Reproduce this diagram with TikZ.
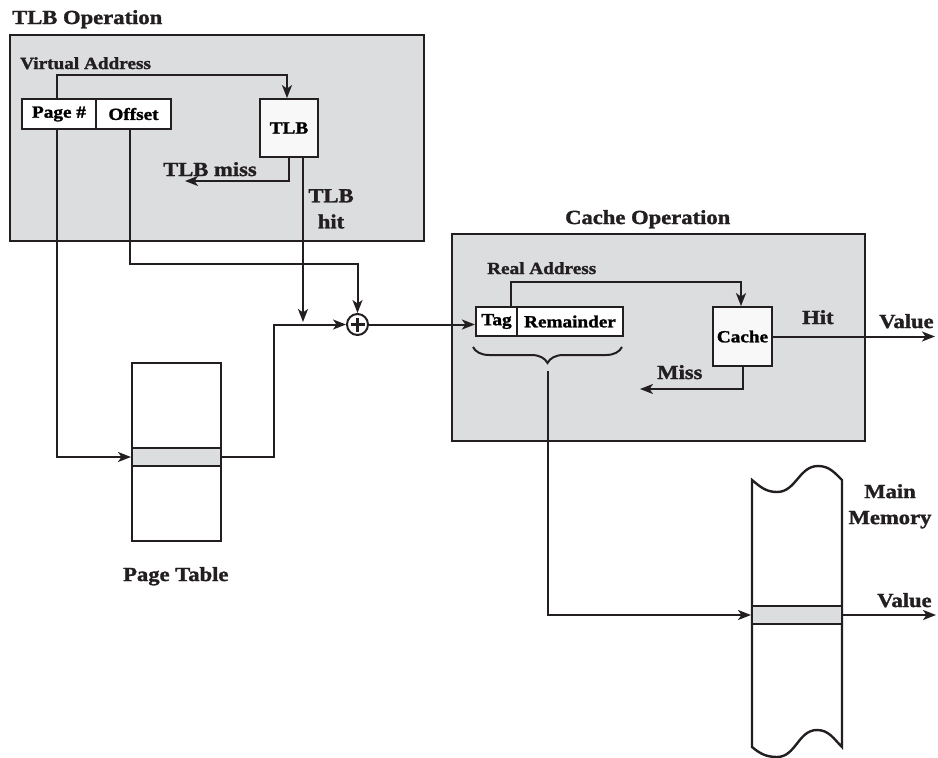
\documentclass[tikz,border=0pt]{standalone}
\usepackage{fontspec}
\setmainfont{Liberation Serif}[FakeStretch=1.13, BoldFeatures={FakeBold=1.5}]
\usetikzlibrary{arrows.meta,decorations.pathreplacing}
\definecolor{linec}{HTML}{231F20}
\definecolor{panel}{HTML}{DCDDDF}
\definecolor{boxf}{HTML}{F8F8F8}
\tikzset{
  biglbl/.style={font=\fontsize{20}{26}\selectfont\bfseries, inner sep=0pt, text=linec},
  smalllbl/.style={font=\fontsize{17}{19}\selectfont\bfseries, inner sep=0pt, text=linec},
  panelbox/.style={draw=linec, line width=2pt, fill=panel, inner sep=0pt},
  unitbox/.style={draw=linec, line width=1.8pt, fill=boxf, inner sep=0pt, minimum width=58pt, minimum height=58pt, font=\fontsize{17}{19}\selectfont\bfseries},
  fieldbox/.style={draw=linec, line width=2.2pt, fill=white, inner sep=0pt, minimum height=30pt, font=\fontsize{17}{19}\selectfont\bfseries},
  arr/.style={draw=linec, line width=2pt, -{Stealth[length=13pt,width=10pt,inset=3.5pt]}},
  plainline/.style={draw=linec, line width=2pt},
}
\begin{document}
\begin{tikzpicture}[x=1pt,y=-1pt]
\useasboundingbox (0,0) rectangle (938,758);

% ---------- TLB operation panel ----------
\node[biglbl, anchor=base west] (tlbtitle) at (12,24) {TLB Operation};
\node[panelbox, minimum width=414pt, minimum height=206pt] (tlbop) at (217,138) {};
\node[smalllbl, anchor=base west] (valbl) at (20,69) {Virtual Address};
\node[fieldbox, minimum width=74pt] (pagenum) at (59,114) {Page \#};
\node[fieldbox, minimum width=75pt] (offset) at (133.5,114) {Offset};
\node[unitbox] (tlb) at (289,128) {TLB};
\node[biglbl, anchor=base west] (misslbl) at (163,176) {TLB miss};
\node[biglbl, anchor=north, align=center] (hitlbl) at (331,189) {TLB\\hit};

\coordinate (tlbmissend) at (185,181);
\coordinate (tlbhitend) at (303,322);

% ---------- page table ----------
\node[draw=linec, line width=2.6pt, fill=white, minimum width=89pt, minimum height=178pt, inner sep=0pt] (ptable) at (176.5,452) {};
\node[draw=linec, line width=2pt, fill=panel, minimum width=89pt, minimum height=18pt, inner sep=0pt] (ptband) at (176.5,457) {};
\node[biglbl, anchor=base west] (ptlbl) at (123,581) {Page Table};

% ---------- adder ----------
\node[draw=linec, line width=2pt, circle, minimum size=21pt, inner sep=0pt, fill=white] (adder) at (357.5,324.5) {};
\draw[linec, line width=3.4pt] ([xshift=-7pt]adder.center) -- ([xshift=7pt]adder.center);
\draw[linec, line width=3.4pt] ([yshift=-7pt]adder.center) -- ([yshift=7pt]adder.center);

% ---------- cache operation panel ----------
\node[biglbl, anchor=base west] (cachetitle) at (565,224) {Cache Operation};
\node[panelbox, minimum width=413pt, minimum height=207pt] (cacheop) at (658.5,337.5) {};
\node[smalllbl, anchor=base west] (ralbl) at (487,274) {Real Address};
\node[fieldbox, minimum width=41pt, minimum height=29pt] (tag) at (496.5,321.5) {Tag};
\node[fieldbox, minimum width=106pt, minimum height=29pt] (rem) at (570,321.5) {Remainder};
\node[unitbox, minimum width=59pt, minimum height=59pt] (cache) at (742.5,336.5) {Cache};
\node[biglbl, anchor=base west] (hitword) at (802,324) {Hit};
\node[biglbl, anchor=base west] (value1) at (879,328) {Value};
\node[biglbl, anchor=base west] (misslbl2) at (657,379) {Miss};

\coordinate (valueend1) at (935,336.5);
\coordinate (cachemissend) at (640,389);
\coordinate (braceL) at (473,347);
\coordinate (braceR) at (622,347);
\coordinate (bracetip) at (547.5,371);

\draw[plainline, decorate, decoration={brace, amplitude=16pt, mirror}] (braceL) -- (braceR);

% ---------- main memory ----------
\draw[linec, line width=2.4pt, fill=white]
  (752,480) to[out=-40,in=180] (777,492) to[out=0,in=180] (818,466) to[out=0,in=135] (842,480)
  -- (842,747) to[out=135,in=0] (817,730) to[out=180,in=0] (777,757) to[out=180,in=-40] (752,747) -- cycle;
\node[draw=linec, line width=2pt, fill=panel, minimum width=90pt, minimum height=18pt, inner sep=0pt] (memband) at (797,615) {};
\node[biglbl, anchor=north, align=center] (memlbl) at (890,484) {Main\\Memory};
\node[biglbl, anchor=base west] (value2) at (877,607) {Value};
\coordinate (valueend2) at (936,615);

% ---------- connectors ----------
\draw[arr] ([xshift=-2pt]pagenum.north) -- ++(0,-23) -| ([xshift=-2pt]tlb.north);
\draw[arr] (tlb.south) |- (tlbmissend);
\draw[arr] (tlb.south -| tlbhitend) -- (tlbhitend);
\draw[arr] ([xshift=-3.5pt]offset.south) -- ++(0,134) -| (adder.north);
\draw[arr] ([xshift=-2pt]pagenum.south) |- (ptband.west);
\draw[arr] (ptband.east) -- ++(52,0) |- (adder.west);
\draw[arr] (adder.east) -- (adder.east -| tag.west);
\draw[arr] ([xshift=14pt]tag.north) -- ++(0,-24) -| ([xshift=-1.5pt]cache.north);
\draw[arr] (cache.east) -- (valueend1);
\draw[arr] (cache.south) |- (cachemissend);
\draw[arr] (bracetip) |- (memband.west);
\draw[arr] (memband.east) -- (valueend2);
\end{tikzpicture}
\end{document}
